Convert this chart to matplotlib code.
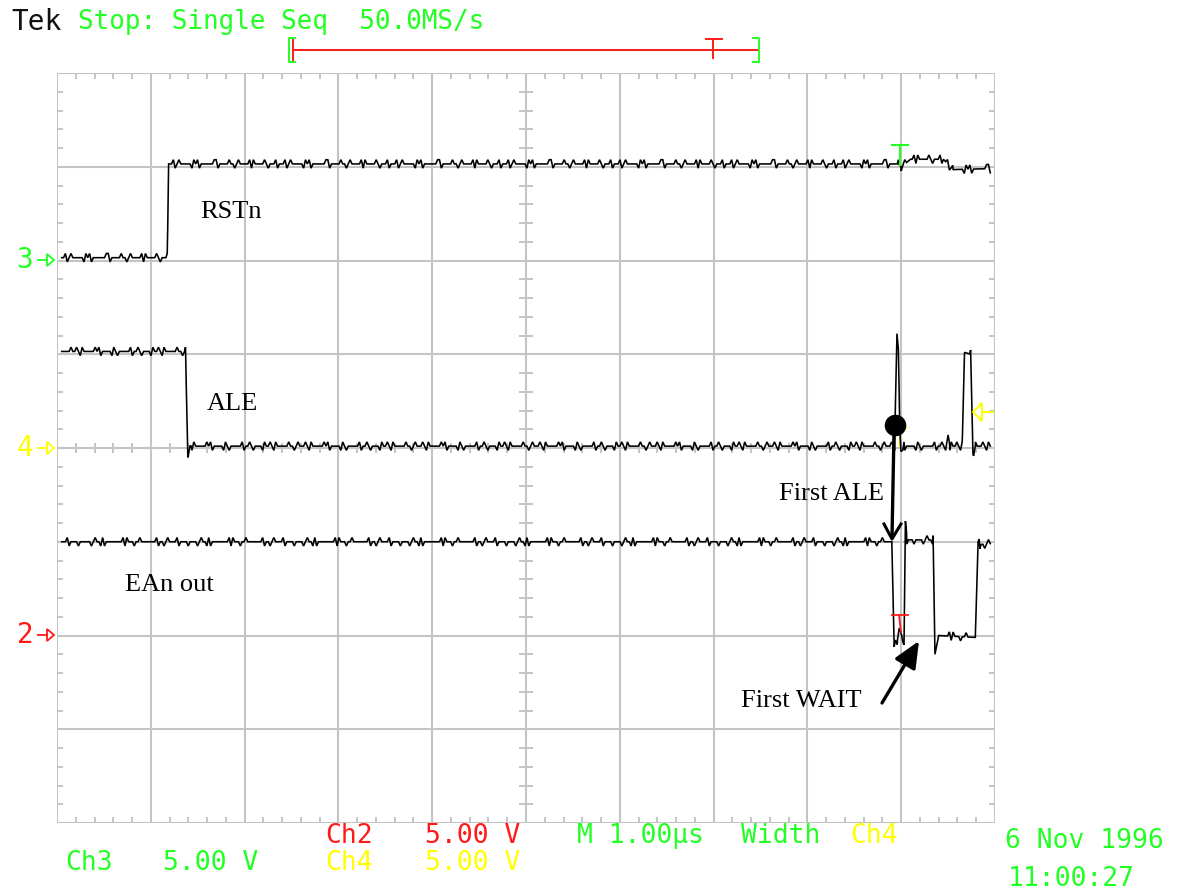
import numpy as np
import matplotlib
matplotlib.use('Agg')
import matplotlib.pyplot as plt
from matplotlib.collections import LineCollection
from matplotlib.patches import Polygon

# ---------------- data (divisions: x 0..10, y 0..8) ----------------
RST_T = [0.05, 1.175, 1.19, 8.97, 9.0, 9.1, 9.45, 9.55, 9.95]
RST_V = [6.03, 6.03, 7.03, 7.03, 7.0, 7.08, 7.08, 6.97, 6.98]

ALE_T = [0.05, 1.37, 1.395, 1.43, 8.93, 8.955, 8.97, 8.985, 9.0, 9.03,
         9.48, 9.50, 9.52, 9.65, 9.675, 9.74, 9.765, 9.79, 9.95]
ALE_V = [5.03, 5.03, 3.90, 4.02, 4.02, 5.22, 5.05, 4.2, 3.92, 4.02,
         4.02, 4.14, 4.02, 4.02, 5.02, 5.0, 3.94, 4.02, 4.02]

EAN_T = [0.05, 8.90, 8.925, 8.96, 8.985, 9.005, 9.03, 9.045, 9.06, 9.09,
         9.34, 9.36, 9.40, 9.79, 9.82, 9.84, 9.95]
EAN_V = [3.0, 3.0, 1.88, 1.95, 2.12, 1.96, 1.90, 3.22, 3.02, 3.02,
         3.02, 1.80, 2.0, 1.98, 3.0, 2.97, 2.98]

# hand-typed jitter patterns (in quanta of Q divisions)
NOISE_A = [0, 0, 1, -1, 0, 1, 0, 0, 0, 0, 0, 0, -1, 1, 0, 1, -1, 0, 0, 0,
           0, 0, 0, 0, 1, 1, -1, 0, 0, 0, 0, 0, 1, 0, 0, -1, 0, 1, 0, 0,
           0, 0, 0, 1, -1, 1, 0, 0, 0, 0, 0, 1, 0, -1, 0, 0, 0, 1, -1, 0]
NOISE_B = [0, 1, 0, -1, 1, 0, 0, 0, 0, 0, 0, 1, 0, 1, -1, 0, 0, 0, 0, 0,
           -1, 1, 0, -1, 0, 0, 0, 0, 0, 0, 1, -1, 0, 0, 1, 0, -1, 0, 0, 0,
           0, -1, 1, 0, 0, 1, 0, -1, 1, 0, 0, 0, 0, 0, 0, 1, 0, 0, -1, 0,
           1, 0, 0]
NOISE_C = [0, 0, 0, -1, 0, 1, 0, 0, -1, 1, -1, 0, 0, 0, 0, 0, 0, 0, 0, 0,
           1, -1, 1, 0, 0, 0, -1, 0, 0, 1, 0, 0, 0, 0, 0, 0, 0, 0, 1, -1,
           0, 0, -1, 0, 1, 0, 0, 0, 0, 1, -1, 0, 0, 0, 0, -1, 0]
Q = 0.045
N_SAMPLES = 500

HEADER_BLACK = "Tek"
HEADER_GREEN = "Stop: Single Seq  50.0MS/s"

# ---------------- figure ----------------
W, H = 1184, 892
fig = plt.figure(figsize=(W / 100, H / 100), dpi=100)
fig.patch.set_facecolor('white')
GX0, GX1, GY0, GY1 = 57, 995, 73, 823
ax = fig.add_axes([GX0 / W, 1 - GY1 / H, (GX1 - GX0) / W, (GY1 - GY0) / H])
ax.set_xlim(0, 10)
ax.set_ylim(0, 8)
ax.axis('off')

SX = (GX1 - GX0) / 10.0
SY = (GY1 - GY0) / 8.0


def P(x, y):
    return (x - GX0) / SX, (GY1 - y) / SY


GREEN = '#22ff22'
RED = '#ff1a1a'
YELLOW = '#ffff00'
GRID = '#c4c4c4'

# graticule
segs = []
for i in range(11):
    segs.append([(i, 0), (i, 8)])
for j in range(9):
    segs.append([(0, j), (10, j)])
ax.add_collection(LineCollection(segs, colors=GRID, linewidths=1.5, zorder=1))

tx = 6 / SX
ty = 6 / SY
tsegs = []
for k in range(1, 50):
    x = k * 0.2
    tsegs.append([(x, 0), (x, ty)])
    tsegs.append([(x, 8), (x, 8 - ty)])
    tsegs.append([(x, 4 - 0.85 * ty), (x, 4 + 0.85 * ty)])
for k in range(1, 40):
    y = k * 0.2
    tsegs.append([(0, y), (tx, y)])
    tsegs.append([(10, y), (10 - tx, y)])
    tsegs.append([(5 - 1.1 * tx, y), (5 + 1.1 * tx, y)])
ax.add_collection(LineCollection(tsegs, colors=GRID, linewidths=1.4, zorder=1))

# traces
t_base = np.linspace(0.05, 9.95, N_SAMPLES)


def trace(T, V, noise, offset):
    tt = np.union1d(t_base, T)
    v = np.interp(tt, T, V)
    n = np.roll(np.resize(noise, tt.size), offset) * Q
    return tt, v + n


for T, V, nz, off in [(RST_T, RST_V, NOISE_A, 0),
                      (ALE_T, ALE_V, NOISE_B, 7),
                      (EAN_T, EAN_V, NOISE_C, 13)]:
    tt, vv = trace(T, V, nz, off)
    ax.plot(tt, vv, color='black', lw=1.15, zorder=3, solid_joinstyle='miter')

# trigger markers
x0, y0 = P(892, 145); x1, _ = P(908, 145); xm, yb = P(900, 165)
ax.plot([x0, x1], [y0, y0], color=GREEN, lw=1.5, zorder=4)
ax.plot([xm, xm], [y0, yb], color=GREEN, lw=1.5, zorder=4)
x0, y0 = P(892, 615); x1, _ = P(908, 615); xm, yb = P(901, 632)
ax.plot([x0, x1], [y0, y0], color=RED, lw=1.3, zorder=4)
ax.plot([P(899, 0)[0], xm], [y0, yb], color=RED, lw=1.3, zorder=4)
xa, ya = P(900, 428); _, yb = P(900, 446)
ax.plot([xa, xa], [ya, yb], color=YELLOW, lw=1.5, zorder=2)
xa, ya = P(900, 428); xb, _ = P(906, 428)
ax.plot([xa, xb], [ya, ya], color=YELLOW, lw=1.5, zorder=2)

# right-side yellow level marker
pts = [P(973, 412), P(982, 403), P(982, 421)]
ax.add_patch(Polygon(pts, closed=True, fill=False, ec=YELLOW, lw=1.4, clip_on=False, zorder=4))
a, b = P(982, 412), P(993, 412)
ax.plot([a[0], b[0]], [a[1], b[1]], color=YELLOW, lw=1.4, clip_on=False, zorder=4)

# left channel markers
for label, ypx, col in [('3', 260, GREEN), ('4', 448, YELLOW), ('2', 635, RED)]:
    fig.text(25 / W, 1 - ypx / H, label, color=col, family='DejaVu Sans Mono',
             fontsize=20, ha='center', va='center')
    a, b = P(38, ypx), P(47, ypx)
    ax.plot([a[0], b[0]], [a[1], b[1]], color=col, lw=1.3, clip_on=False)
    tri = [P(47, ypx - 6), P(47, ypx + 6), P(54, ypx)]
    ax.add_patch(Polygon(tri, closed=True, fill=False, ec=col, lw=1.3, clip_on=False))

# annotations
SERIF = 'Liberation Serif'
for s, xp, yp in [('RSTn', 200, 212), ('ALE', 207, 404), ('First ALE', 779, 494),
                  ('EAn out', 125, 585), ('First WAIT', 741, 701)]:
    xd, yd = P(xp, yp)
    ax.text(xd, yd, s, family=SERIF, fontsize=19, color='black',
            ha='left', va='center', zorder=5)

# dot and arrows
xd, yd = P(895, 425)
ax.plot([xd], [yd], 'o', color='black', ms=14.5, zorder=6)
a, b = P(894, 432), P(892, 538)
ax.plot([a[0], b[0]], [a[1], b[1]], color='black', lw=2.4, zorder=6,
        solid_capstyle='butt')
l, tip, r = P(884, 524), P(892, 539), P(901, 524)
ax.plot([l[0], tip[0], r[0]], [l[1], tip[1], r[1]], color='black', lw=2.2, zorder=6)

ax.annotate('', xy=P(919, 641), xytext=P(882, 703),
            arrowprops=dict(arrowstyle='-|>,head_length=0.9,head_width=0.4',
                            color='black', lw=2.4, mutation_scale=18,
                            shrinkA=0, shrinkB=0), zorder=6)

# header
MONO = 'DejaVu Sans Mono'
fig.text(11 / W, 1 - 22 / H, HEADER_BLACK, color='#111111', family=MONO,
         fontsize=20, ha='left', va='center')
fig.text(78 / W, 1 - 22 / H, HEADER_GREEN, color=GREEN, family=MONO,
         fontsize=18.7, ha='left', va='center')

# record bar
fy = 1 - 50 / H
fig.add_artist(plt.Line2D([293 / W, 758 / W], [fy, fy], color=RED, lw=1.4))
fig.add_artist(plt.Line2D([293 / W, 293 / W], [1 - 39 / H, 1 - 61 / H], color=RED, lw=1.4))
fig.add_artist(plt.Line2D([295 / W, 289 / W, 289 / W, 295 / W],
                          [1 - 38 / H, 1 - 38 / H, 1 - 62 / H, 1 - 62 / H], color=GREEN, lw=1.4))
fig.add_artist(plt.Line2D([753 / W, 759 / W, 759 / W, 753 / W],
                          [1 - 38 / H, 1 - 38 / H, 1 - 62 / H, 1 - 62 / H], color=GREEN, lw=1.4))
fig.add_artist(plt.Line2D([706 / W, 722 / W], [1 - 39 / H, 1 - 39 / H], color=RED, lw=1.4))
fig.add_artist(plt.Line2D([713 / W, 713 / W], [1 - 39 / H, 1 - 58 / H], color=RED, lw=1.4))

# bottom readouts
for s, xp, yp, col in [('Ch2', 325, 836, RED), ('5.00 V', 425, 836, RED),
                       ('M 1.00µs', 577, 836, GREEN), ('Width', 741, 836, GREEN),
                       ('Ch4', 850, 836, YELLOW),
                       ('Ch3', 65, 863, GREEN), ('5.00 V', 163, 863, GREEN),
                       ('Ch4', 325, 863, YELLOW), ('5.00 V', 425, 863, YELLOW),
                       ('6 Nov 1996', 1005, 841, GREEN), ('11:00:27', 1008, 879, GREEN)]:
    fig.text(xp / W, 1 - yp / H, s, color=col, family=MONO, fontsize=19,
             ha='left', va='center')

fig.savefig('out.png', dpi=100, facecolor='white')
